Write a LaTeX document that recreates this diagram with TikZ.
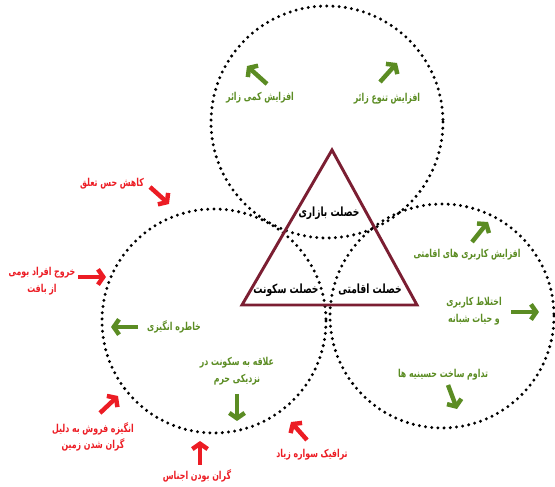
\documentclass[tikz,border=0pt]{standalone}
\usepackage{fontspec}
\usepackage{tikz}
\usetikzlibrary{arrows.meta}
\newfontfamily\fafont[Script=Arabic,FakeStretch=0.72]{DejaVu Sans}
\TeXXeTstate=1
\newcommand{\rtl}[1]{\beginR #1\endR}
\definecolor{leafgreen}{HTML}{5B8C23}
\definecolor{alarmred}{HTML}{EC1C24}
\definecolor{maroon}{HTML}{7B1E32}

\begin{document}
\begin{tikzpicture}[x=0.03cm,y=-0.03cm]
		\tikzstyle{ring}=[color=black,line width=2.8pt,line cap=round,dash pattern=on 0pt off 5.3pt]
		\tikzstyle{core}=[color=maroon,line width=2.5pt]
		\tikzstyle{trait}=[font=\fafont\bfseries\fontsize{10.8}{14}\selectfont,text=black,inner sep=1pt]
		\tikzstyle{gain}=[font=\fafont\bfseries\fontsize{9.3}{14}\selectfont,text=leafgreen,align=center,inner sep=1pt]
		\tikzstyle{loss}=[font=\fafont\bfseries\fontsize{9.3}{14}\selectfont,text=alarmred,align=center,inner sep=1pt]
		\tikzstyle{gain-arrow}=[-{Straight Barb[length=1.6mm,width=4.6mm]},color=leafgreen,line width=3.8pt]
		\tikzstyle{loss-arrow}=[-{Straight Barb[length=1.6mm,width=4.6mm]},color=alarmred,line width=3.8pt]
		\useasboundingbox (0,0) rectangle (555,487);
		% circles
		\draw [ring] (327,122) circle (116);
		\draw [ring] (214,321) circle (112);
		\draw [ring] (442,316) circle (112);
		% triangle
		\draw [core] (332,150) -- (242,305) -- (417,305) -- cycle;
		\node [trait] at (329,213) (bazari) {\rtl{خصلت بازاری}};
		\node [trait] at (286,290) (sokonat) {\rtl{خصلت سکونت}};
		\node [trait] at (370,289) (eghamati) {\rtl{خصلت اقامتی}};
		% top circle
		\node [gain] at (260,98) (kami) {\rtl{افزایش کمی زائر}};
		\node [gain] at (387,99) (tanavo) {\rtl{افزایش تنوع زائر}};
		\coordinate (kamiTail) at (267,84);
		\coordinate (kamiHead) at (247,66);
		\coordinate (tanavoTail) at (380,82);
		\coordinate (tanavoHead) at (397,63);
		\draw [gain-arrow] (kamiTail) -- (kamiHead);
		\draw [gain-arrow] (tanavoTail) -- (tanavoHead);
		% right circle
		\node [gain] at (467,255) (karbari) {\rtl{افزایش کاربری های اقامتی}};
		\node [gain] at (474,311) (ekhtelat) {\rtl{اختلاط کاربری}\\\rtl{و حیات شبانه}};
		\node [gain] at (443,375) (tadavom) {\rtl{تداوم ساخت حسینیه ها}};
		\coordinate (karbariTail) at (472,242);
		\coordinate (karbariHead) at (488,222);
		\coordinate (ekhtelatTail) at (511,312);
		\coordinate (ekhtelatHead) at (539,312);
		\coordinate (tadavomTail) at (448,385);
		\coordinate (tadavomHead) at (457,409);
		\draw [gain-arrow] (karbariTail) -- (karbariHead);
		\draw [gain-arrow] (ekhtelatTail) -- (ekhtelatHead);
		\draw [gain-arrow] (tadavomTail) -- (tadavomHead);
		% left circle
		\node [gain] at (174,327) (khatere) {\rtl{خاطره انگیزی}};
		\node [gain] at (237,371) (alaghe) {\rtl{علاقه به سکونت در}\\\rtl{نزدیکی حرم}};
		\coordinate (khatereTail) at (138,327);
		\coordinate (khatereHead) at (111,327);
		\coordinate (alagheTail) at (237,394);
		\coordinate (alagheHead) at (237,421);
		\draw [gain-arrow] (khatereTail) -- (khatereHead);
		\draw [gain-arrow] (alagheTail) -- (alagheHead);
		% threats
		\node [loss] at (112,184) (taalogh) {\rtl{کاهش حس تعلق}};
		\node [loss] at (42,281) (khorooj) {\rtl{خروج افراد بومی}\\\rtl{از بافت}};
		\node [loss] at (93,437) (foroosh) {\rtl{انگیزه فروش به دلیل}\\\rtl{گران شدن زمین}};
		\node [loss] at (197,476) (ajnas) {\rtl{گران بودن اجناس}};
		\node [loss] at (312,455) (terafik) {\rtl{ترافیک سواره زیاد}};
		\coordinate (taaloghTail) at (150,187);
		\coordinate (taaloghHead) at (169,204);
		\coordinate (kharoojTail) at (78,277);
		\coordinate (kharoojHead) at (106,277);
		\coordinate (frooshTail) at (100,413);
		\coordinate (frooshHead) at (118,396);
		\coordinate (ajnasTail) at (200,465);
		\coordinate (ajnasHead) at (200,441);
		\coordinate (terafikTail) at (307,440);
		\coordinate (terafikHead) at (291,422);
		\draw [loss-arrow] (taaloghTail) -- (taaloghHead);
		\draw [loss-arrow] (kharoojTail) -- (kharoojHead);
		\draw [loss-arrow] (frooshTail) -- (frooshHead);
		\draw [loss-arrow] (ajnasTail) -- (ajnasHead);
		\draw [loss-arrow] (terafikTail) -- (terafikHead);
	\end{tikzpicture}
\end{document}
